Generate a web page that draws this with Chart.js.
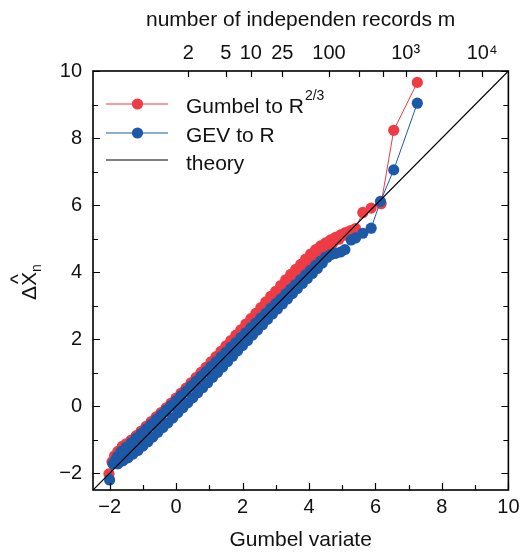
<!DOCTYPE html>
<html lang="en">
<head>
  <meta charset="UTF-8">
  <title>Gumbel variate Q-Q plot</title>
  <script src="https://cdn.jsdelivr.net/npm/chart.js"></script>
  <style>
    html, body { margin: 0; padding: 0; background: #fff; }
    canvas { display: block; }
  </style>
</head>
<body>
  <canvas id="myChart" width="525" height="553"></canvas>

  <script>
    // ---- data ----
    // Gumbel fit to R^(2/3): upper and lower traces of the red band
    const redHiX = [-2.02, -1.93, -1.85, -1.75, -1.62, -1.5, -1.35, -1.2, -1.05, -0.9, -0.75, -0.6, -0.45, -0.3, -0.15, 0,
      0.15, 0.3, 0.45, 0.6, 0.75, 0.9, 1.05, 1.2, 1.35, 1.5, 1.65, 1.8, 1.95, 2.1, 2.25, 2.4, 2.55, 2.7, 2.85, 3.0,
      3.15, 3.3, 3.45, 3.6, 3.75, 3.9, 4.05, 4.2, 4.35, 4.5, 4.65, 4.8, 4.95, 5.1, 5.25, 5.4, 5.62, 5.87, 6.17, 6.55, 7.26];
    const redHiY = [-2.02, -1.66, -1.48, -1.35, -1.2, -1.12, -1.01, -0.88, -0.74, -0.6, -0.46, -0.32, -0.19, -0.05, 0.09, 0.24,
      0.39, 0.54, 0.7, 0.85, 1.01, 1.16, 1.32, 1.48, 1.64, 1.8, 1.96, 2.12, 2.28, 2.45, 2.61, 2.77, 2.94, 3.11, 3.28, 3.43,
      3.6, 3.77, 3.93, 4.08, 4.23, 4.39, 4.54, 4.67, 4.78, 4.87, 4.96, 5.04, 5.11, 5.18, 5.24, 5.3, 5.78, 5.91, 6.04, 8.23, 9.66];

    const redLoX = [-1.7, -1.5, -1.3, -1.1, -0.9, -0.7, -0.5, -0.3, -0.1, 0.1, 0.3, 0.5, 0.7, 0.9, 1.1, 1.3, 1.5, 1.7,
      1.9, 2.1, 2.3, 2.5, 2.7, 2.9, 3.1, 3.3, 3.5, 3.7, 3.9, 4.1, 4.3, 4.5, 4.7, 4.9, 5.05];
    const redLoY = [-1.52, -1.33, -1.14, -0.95, -0.75, -0.55, -0.36, -0.16, 0.04, 0.24, 0.44, 0.64, 0.84, 1.04, 1.24, 1.45, 1.65, 1.86,
      2.06, 2.27, 2.48, 2.69, 2.9, 3.12, 3.34, 3.55, 3.76, 3.96, 4.16, 4.35, 4.52, 4.68, 4.84, 4.98, 5.1];

    // GEV fit to R: upper and lower traces of the blue band
    const blueHiX = [-2.0, -1.9, -1.83, -1.76, -1.65, -1.5, -1.35, -1.2, -1.05, -0.9, -0.75, -0.6, -0.45, -0.3, -0.15, 0,
      0.15, 0.3, 0.45, 0.6, 0.75, 0.9, 1.05, 1.2, 1.35, 1.5, 1.65, 1.8, 1.95, 2.1, 2.25, 2.4, 2.55, 2.7, 2.85, 3.0,
      3.15, 3.3, 3.45, 3.6, 3.75, 3.9, 4.05, 4.2, 4.35, 4.5, 4.65, 4.8, 4.95, 5.08, 5.27, 5.4, 5.62, 5.87, 6.15, 6.55, 7.26];
    const blueHiY = [-2.2, -1.72, -1.62, -1.5, -1.35, -1.22, -1.09, -0.95, -0.82, -0.68, -0.54, -0.4, -0.26, -0.12, 0.02, 0.16,
      0.31, 0.45, 0.6, 0.74, 0.89, 1.03, 1.18, 1.32, 1.47, 1.61, 1.76, 1.9, 2.05, 2.19, 2.34, 2.48, 2.63, 2.77, 2.92, 3.06,
      3.2, 3.35, 3.49, 3.63, 3.78, 3.92, 4.06, 4.2, 4.33, 4.45, 4.52, 4.56, 4.6, 4.67, 4.96, 5.02, 5.16, 5.31, 6.11, 7.05, 9.04];

    const blueLoX = [-1.75, -1.6, -1.45, -1.3, -1.15, -1.0, -0.85, -0.7, -0.55, -0.4, -0.25, -0.1, 0.05, 0.2, 0.35, 0.5,
      0.65, 0.8, 0.95, 1.1, 1.25, 1.4, 1.55, 1.7, 1.85, 2.0, 2.15, 2.3, 2.45, 2.6, 2.75, 2.9, 3.05, 3.2, 3.35, 3.5,
      3.65, 3.8, 3.95, 4.1, 4.25, 4.4, 4.55];
    const blueLoY = [-1.72, -1.63, -1.54, -1.43, -1.32, -1.19, -1.06, -0.92, -0.78, -0.64, -0.5, -0.35, -0.2, -0.05, 0.1, 0.25,
      0.4, 0.55, 0.7, 0.86, 1.01, 1.17, 1.33, 1.49, 1.65, 1.81, 1.96, 2.12, 2.27, 2.43, 2.59, 2.75, 2.9, 3.05, 3.2, 3.36,
      3.51, 3.66, 3.81, 3.96, 4.11, 4.27, 4.44];

    // theory: straight line y = x across the plot
    const theoryX = [-2.5, 10];
    const theoryY = [-2.5, 10];

    // axes
    const xTicks = [-2, 0, 2, 4, 6, 8, 10];
    const yTicks = [-2, 0, 2, 4, 6, 8, 10];
    const mTicks = [2, 5, 10, 25, 100, 250, 500, 1000, 2500, 5000, 10000];
    const mLabels = ['2', '5', '10', '25', '100', '', '', '10³', '', '', '10⁴'];

    const RED = '#ee3b44';
    const BLUE = '#1c5aa8';
    const FONT = '"Liberation Sans", Arial, Helvetica, sans-serif';
    const R = 5.6;

    Chart.defaults.font.family = FONT;
    Chart.defaults.color = '#111';

    function zip(xs, ys) {
      return xs.map((x, i) => ({ x: x, y: ys[i] }));
    }

    // reduced Gumbel variate for a return period of m records
    function gumbelOf(m) {
      return -Math.log(-Math.log(1 - 1 / m));
    }

    function fmt(v) {
      return v < 0 ? '\u2212' + Math.abs(v) : String(v);
    }

    // frame and inward tick marks
    const framePlugin = {
      id: 'frame',
      afterDatasetsDraw(chart) {
        const { ctx, chartArea: a, scales } = chart;
        ctx.save();
        ctx.strokeStyle = '#000';
        ctx.lineWidth = 1.2;
        ctx.beginPath();
        for (let v = -2; v <= 10; v++) {
          const len = v % 2 === 0 ? 7 : 5;
          const px = Math.round(scales.x.getPixelForValue(v)) + 0.5;
          ctx.moveTo(px, a.bottom); ctx.lineTo(px, a.bottom - len);
          const py = Math.round(scales.y.getPixelForValue(v)) + 0.5;
          ctx.moveTo(a.left, py); ctx.lineTo(a.left + len, py);
          ctx.moveTo(a.right, py); ctx.lineTo(a.right - len, py);
        }
        mTicks.forEach(m => {
          const px = Math.round(scales.xTop.getPixelForValue(gumbelOf(m))) + 0.5;
          ctx.moveTo(px, a.top); ctx.lineTo(px, a.top + 6);
        });
        ctx.stroke();
        ctx.lineWidth = 1.6;
        ctx.strokeRect(a.left, a.top, a.right - a.left, a.bottom - a.top);
        ctx.restore();
      }
    };

    // legend inside the plot, with superscript support
    const legendPlugin = {
      id: 'insideLegend',
      afterDraw(chart) {
        const { ctx } = chart;
        const rows = [
          { ds: chart.data.datasets[0], y: 104, base: 113 },
          { ds: chart.data.datasets[2], y: 133, base: 141.5 },
          { ds: chart.data.datasets[4], y: 160, base: 169.5 }
        ];
        ctx.save();
        rows.forEach(r => {
          ctx.strokeStyle = r.ds.borderColor;
          ctx.lineWidth = r.ds.borderWidth;
          ctx.beginPath();
          ctx.moveTo(106, r.y);
          ctx.lineTo(168, r.y);
          ctx.stroke();
          if (r.ds.pointRadius > 0) {
            ctx.fillStyle = r.ds.pointBackgroundColor;
            ctx.beginPath();
            ctx.arc(137.5, r.y, r.ds.pointRadius, 0, Math.PI * 2);
            ctx.fill();
          }
          const parts = r.ds.label.split('^');
          ctx.fillStyle = '#111';
          ctx.font = '21px ' + FONT;
          ctx.textBaseline = 'alphabetic';
          ctx.fillText(parts[0], 186, r.base);
          if (parts[1]) {
            const w = ctx.measureText(parts[0]).width;
            ctx.font = '14px ' + FONT;
            ctx.fillText(parts[1], 186 + w + 1, r.base - 13);
          }
        });
        ctx.restore();
      }
    };

    // rotated y title: delta X-hat with subscript n
    const yTitlePlugin = {
      id: 'yTitle',
      afterDraw(chart) {
        const { ctx } = chart;
        ctx.save();
        ctx.translate(36, 300);
        ctx.rotate(-Math.PI / 2);
        ctx.fillStyle = '#111';
        ctx.textBaseline = 'alphabetic';
        ctx.font = '21px ' + FONT;
        ctx.fillText('\u0394', 0, 0);
        const wd = ctx.measureText('\u0394').width;
        ctx.fillText('X', wd, 0);
        const wx = ctx.measureText('X').width;
        ctx.fillText('^', wd + (wx - ctx.measureText('^').width) / 2, -11);
        ctx.font = '14px ' + FONT;
        ctx.fillText('n', wd + wx, 5);
        ctx.restore();
      }
    };

    const ctx = document.getElementById('myChart').getContext('2d');

    new Chart(ctx, {
      type: 'scatter',
      data: {
        datasets: [
          {
            label: 'Gumbel to R^2/3',
            data: zip(redHiX, redHiY),
            showLine: true, borderColor: RED, borderWidth: 1,
            pointRadius: R, pointBorderWidth: 0, pointBackgroundColor: RED,
            order: 2
          },
          {
            label: 'Gumbel to R (lower trace)',
            data: zip(redLoX, redLoY),
            showLine: true, borderColor: RED, borderWidth: 1,
            pointRadius: R, pointBorderWidth: 0, pointBackgroundColor: RED,
            order: 2
          },
          {
            label: 'GEV to R',
            data: zip(blueHiX, blueHiY),
            showLine: true, borderColor: BLUE, borderWidth: 1,
            pointRadius: R, pointBorderWidth: 0, pointBackgroundColor: BLUE,
            order: 1
          },
          {
            label: 'GEV to R (lower trace)',
            data: zip(blueLoX, blueLoY),
            showLine: true, borderColor: BLUE, borderWidth: 1,
            pointRadius: R, pointBorderWidth: 0, pointBackgroundColor: BLUE,
            order: 1
          },
          {
            label: 'theory',
            data: zip(theoryX, theoryY),
            showLine: true, borderColor: '#000', borderWidth: 1.2,
            pointRadius: 0,
            order: 0
          }
        ]
      },
      options: {
        responsive: false,
        animation: false,
        layout: { padding: { left: 0, right: 14, top: 0, bottom: 0 } },
        plugins: {
          legend: { display: false },
          tooltip: { enabled: false }
        },
        scales: {
          x: {
            type: 'linear', position: 'bottom', min: -2.5, max: 10,
            grid: { display: false, drawTicks: false },
            border: { display: false },
            afterBuildTicks: s => { s.ticks = xTicks.map(v => ({ value: v })); },
            ticks: { callback: v => fmt(v), font: { size: 20 }, color: '#111', padding: 5.5, maxRotation: 0, autoSkip: false },
            title: { display: true, text: 'Gumbel variate', font: { size: 21 }, color: '#111', padding: { top: 0, bottom: 0 } },
            afterFit: s => { s.height = 63; }
          },
          xTop: {
            type: 'linear', position: 'top', min: -2.5, max: 10,
            grid: { display: false, drawTicks: false },
            border: { display: false },
            afterBuildTicks: s => { s.ticks = mTicks.map(m => ({ value: gumbelOf(m) })); },
            ticks: { callback: (v, i) => mLabels[i], font: { size: 20 }, color: '#111', padding: 6, maxRotation: 0, autoSkip: false },
            title: { display: true, text: 'number of independen records m', font: { size: 21 }, color: '#111', padding: { top: 8, bottom: 0 } },
            afterFit: s => { s.height = 71; }
          },
          y: {
            type: 'linear', position: 'left', min: -2.5, max: 10,
            grid: { display: false, drawTicks: false },
            border: { display: false },
            afterBuildTicks: s => { s.ticks = yTicks.map(v => ({ value: v })); },
            ticks: { callback: v => fmt(v), font: { size: 20 }, color: '#111', padding: 11 },
            title: { display: false },
            afterFit: s => { s.width = 93; }
          }
        }
      },
      plugins: [framePlugin, legendPlugin, yTitlePlugin]
    });
  </script>
</body>
</html>
